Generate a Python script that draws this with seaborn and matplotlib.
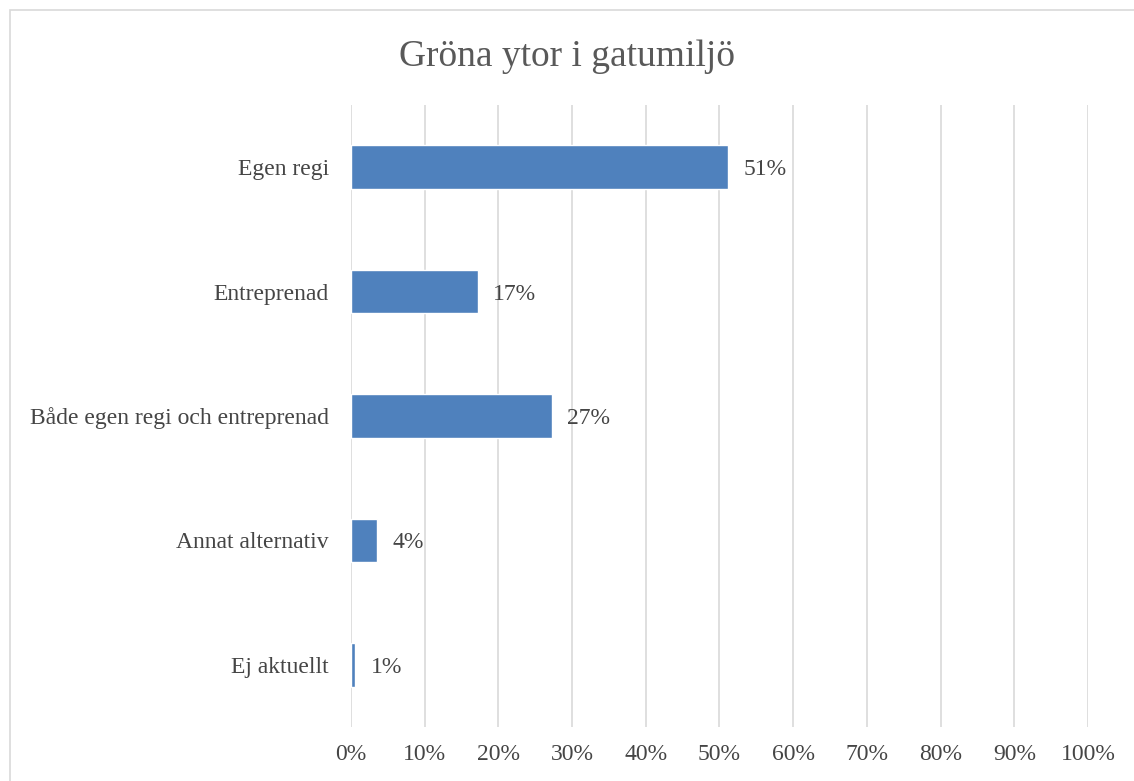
import matplotlib
matplotlib.use("Agg")
import matplotlib.pyplot as plt
import seaborn as sns
import pandas as pd
from matplotlib.patches import Rectangle

categories = ["Egen regi", "Entreprenad", "Både egen regi och entreprenad",
              "Annat alternativ", "Ej aktuellt"]
shares = [51.2, 17.2, 27.3, 3.5, 0.6]
x_ticks = [0, 10, 20, 30, 40, 50, 60, 70, 80, 90, 100]
title = "Gröna ytor i gatumiljö"

df = pd.DataFrame({"category": categories, "share": shares})

sns.set_theme(style="white")
plt.rcParams["font.family"] = ["Liberation Serif", "DejaVu Serif"]

title_color = "#595959"
text_color = "#454545"
grid_color = "#D9D9D9"
bar_color = "#4F81BD"

fig = plt.figure(figsize=(11.34, 7.81), dpi=100)
ax = fig.add_axes([0.3095, 0.0691, 0.6499, 0.7965])

sns.barplot(data=df, x="share", y="category", orient="h", color=bar_color,
            width=0.35, saturation=1, ax=ax, zorder=3)

ax.set_xlim(0, 100)
ax.set_xticks(x_ticks)
ax.set_xticklabels([f"{t}%" for t in x_ticks], fontsize=17, color=text_color)
ax.tick_params(axis="y", labelsize=17, labelcolor=text_color, length=0, pad=16)
ax.tick_params(axis="x", length=0, pad=12)
ax.set_xlabel("")
ax.set_ylabel("")
ax.xaxis.grid(True, color=grid_color, linewidth=1.2, zorder=0)
ax.yaxis.grid(False)
for s in ax.spines.values():
    s.set_visible(False)

labels = [f"{int(v + 0.5)}%" for v in shares]
texts = ax.bar_label(ax.containers[0], labels=labels, padding=11, fontsize=17,
                     color=text_color)
for t in texts:
    t.set_verticalalignment("center_baseline")

fig.text(0.5, 0.927, title, ha="center", va="center", fontsize=27,
         color=title_color)

fig.patches.append(Rectangle((10 / 1134, -0.01), 1.02, 1 - 10 / 781 + 0.01,
                             transform=fig.transFigure, fill=False,
                             edgecolor=grid_color, linewidth=1.2))

fig.savefig("out.png", dpi=100)
